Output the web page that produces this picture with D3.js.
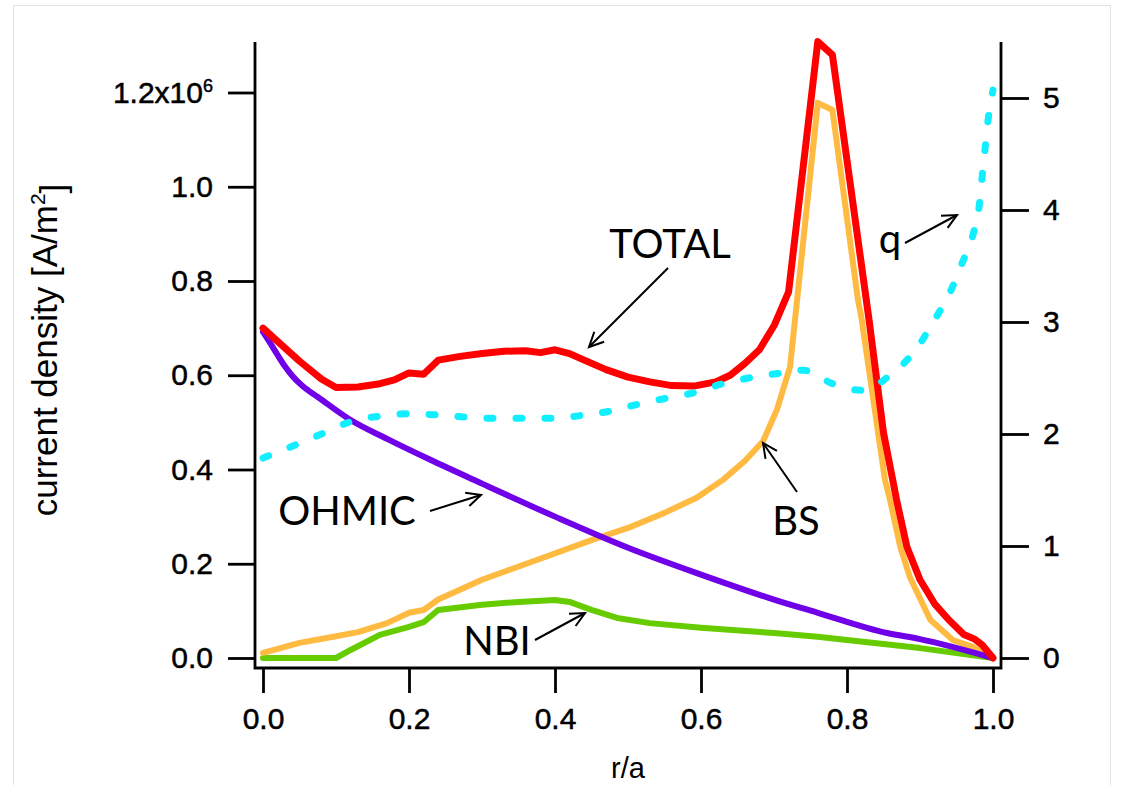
<!DOCTYPE html>
<html><head><meta charset="utf-8">
<script src="https://cdn.jsdelivr.net/npm/d3@7"></script>
<style>body{margin:0;background:#fff;}</style>
</head><body>
<svg id="c" width="1122" height="785"></svg>
<script>
// current density values in units of 1e6 A/m^2, q dimensionless
const rTotal = [0.00,0.02,0.05,0.08,0.10,0.13,0.16,0.18,0.20,0.22,0.24,0.27,0.30,0.33,0.36,0.38,0.40,0.42,0.44,0.47,0.50,0.53,0.56,0.59,0.62,0.64,0.66,0.68,0.70,0.72,0.76,0.78,0.83,0.85,0.868,0.882,0.90,0.92,0.94,0.96,0.975,0.985,1.00];
const jTotal = [0.700,0.672,0.630,0.592,0.574,0.575,0.582,0.590,0.605,0.602,0.632,0.640,0.646,0.651,0.652,0.648,0.654,0.646,0.632,0.612,0.596,0.586,0.578,0.577,0.586,0.600,0.625,0.654,0.705,0.777,1.308,1.280,0.720,0.478,0.335,0.236,0.166,0.115,0.080,0.050,0.040,0.028,0.000];

const rBS = [0.00,0.05,0.10,0.13,0.17,0.20,0.22,0.24,0.30,0.375,0.45,0.50,0.55,0.594,0.63,0.66,0.685,0.704,0.722,0.76,0.78,0.815,0.82,0.852,0.859,0.873,0.886,0.914,0.945,0.973,1.00];
const jBS = [0.011,0.032,0.046,0.055,0.074,0.096,0.102,0.124,0.166,0.208,0.250,0.276,0.308,0.340,0.378,0.418,0.460,0.527,0.618,1.178,1.163,0.760,0.720,0.378,0.335,0.236,0.172,0.081,0.038,0.023,0.000];

const rOhm = [0.00,0.01,0.02,0.03,0.04,0.055,0.075,0.12,0.17,0.23,0.30,0.40,0.50,0.60,0.70,0.76,0.855,0.90,1.00];
const jOhm = [0.692,0.668,0.643,0.619,0.599,0.576,0.554,0.505,0.465,0.420,0.370,0.300,0.234,0.177,0.124,0.096,0.053,0.040,0.000];

const rNBI = [0.00,0.10,0.12,0.16,0.20,0.22,0.24,0.30,0.35,0.40,0.42,0.45,0.485,0.53,0.60,0.70,0.76,0.80,0.90,1.00];
const jNBI = [0.000,0.000,0.017,0.049,0.066,0.076,0.102,0.113,0.119,0.123,0.119,0.102,0.085,0.074,0.064,0.053,0.045,0.038,0.021,0.000];

const rQ = [0.00,0.04,0.08,0.12,0.16,0.20,0.24,0.28,0.32,0.36,0.40,0.44,0.48,0.51,0.545,0.585,0.625,0.665,0.705,0.74,0.78,0.82,0.86,0.895,0.92,0.94,0.958,0.973,0.981,0.985,0.989,0.993,1.00];
const qVals = [1.785,1.89,2.00,2.11,2.16,2.18,2.17,2.15,2.14,2.14,2.14,2.17,2.21,2.26,2.31,2.36,2.44,2.50,2.54,2.57,2.45,2.39,2.53,2.76,3.02,3.25,3.53,3.79,4.03,4.29,4.54,4.79,5.07];

const xTicks = [0,0.2,0.4,0.6,0.8,1.0];
const leftTicks = [0,0.2,0.4,0.6,0.8,1.0,1.2];
const rightTicks = [0,1,2,3,4,5];

const svg = d3.select("#c");
svg.append("rect").attr("x",13.5).attr("y",5.5).attr("width",1097).attr("height",800)
  .attr("fill","none").attr("stroke","#e2e2e2").attr("stroke-width",1);

const x = d3.scaleLinear().domain([0,1]).range([263,993]);
const yL = d3.scaleLinear().domain([0,1.2]).range([658,92.5]);
const yR = d3.scaleLinear().domain([0,5]).range([658,98]);

const tickFont = "'Liberation Sans', Arial, sans-serif";
const annFont = "Lato, 'Open Sans', sans-serif";

function styleAxis(g){
  g.select(".domain").remove();
  g.selectAll(".tick line").attr("stroke","#000").attr("stroke-width",2.8);
  g.selectAll(".tick text").attr("fill","#000").attr("stroke","#000").attr("stroke-width",0.5)
    .style("font-family",tickFont).style("font-size","30px");
}

// axis lines
const frame = svg.append("g").attr("stroke","#000").attr("stroke-width",2.8).attr("fill","none");
frame.append("path").attr("d","M255,42V668H1001V42");

const gx = svg.append("g").attr("transform","translate(0,668)")
  .call(d3.axisBottom(x).tickValues(xTicks).tickFormat(d3.format(".1f")).tickSize(25).tickPadding(15));
styleAxis(gx);

const gl = svg.append("g").attr("transform","translate(255,0)")
  .call(d3.axisLeft(yL).tickValues(leftTicks).tickFormat(d3.format(".1f")).tickSize(27).tickPadding(15));
styleAxis(gl);
gl.selectAll(".tick text").filter(d => d === 1.2).each(function(){
  const t = d3.select(this); t.text("");
  t.append("tspan").text("1.2x10");
  t.append("tspan").attr("dy","-0.6em").style("font-size","18px").text("6");
});

const gr = svg.append("g").attr("transform","translate(1001,0)")
  .call(d3.axisRight(yR).tickValues(rightTicks).tickFormat(d3.format("d")).tickSize(28).tickPadding(14));
styleAxis(gr);

// axis titles
const yt = svg.append("text").attr("transform","translate(57,350) rotate(-90)")
  .attr("text-anchor","middle").style("font-family",tickFont).style("font-size","35px").attr("fill","#000");
yt.append("tspan").text("current density [A/m");
yt.append("tspan").attr("dy","-0.55em").style("font-size","21px").text("2");
yt.append("tspan").attr("dy","0.55em").text("]");

svg.append("text").attr("x",628).attr("y",778).attr("text-anchor","middle")
  .style("font-family",tickFont).style("font-size","29px").attr("fill","#000").text("r/a");

// series
const zipL = (rs, vs) => rs.map((r,i)=>[r,vs[i]]);
const lineL = d3.line().x(d=>x(d[0])).y(d=>yL(d[1]));
const lineLs = d3.line().x(d=>x(d[0])).y(d=>yL(d[1])).curve(d3.curveMonotoneX);
const lineR = d3.line().x(d=>x(d[0])).y(d=>yR(d[1])).curve(d3.curveMonotoneX);

const series = [
  {d: zipL(rNBI,jNBI), c:"#66cc00", w:6, gen: lineL},
  {d: zipL(rBS,jBS), c:"#ffba42", w:6, gen: lineL},
  {d: zipL(rOhm,jOhm), c:"#7000e8", w:6, gen: lineLs},
  {d: zipL(rTotal,jTotal), c:"#ff0000", w:7, gen: lineL},
];
series.forEach(s => {
  svg.append("path").attr("d", s.gen(s.d)).attr("fill","none").attr("stroke",s.c)
    .attr("stroke-width",s.w).attr("stroke-linejoin","round").attr("stroke-linecap","round");
});
svg.append("path").attr("d", lineR(zipL(rQ,qVals))).attr("fill","none").attr("stroke","#11eeff")
  .attr("stroke-width",7).attr("stroke-linecap","round").attr("stroke-dasharray","6 23");

// annotations
function arrow(x1,y1,x2,y2){
  const g = svg.append("g").attr("stroke","#000").attr("stroke-width",2).attr("fill","none");
  g.append("line").attr("x1",x1).attr("y1",y1).attr("x2",x2).attr("y2",y2);
  const a = Math.atan2(y1-y2, x1-x2), L = 16, s = 0.45;
  g.append("path").attr("d",`M${x2+L*Math.cos(a+s)},${y2+L*Math.sin(a+s)}L${x2},${y2}L${x2+L*Math.cos(a-s)},${y2+L*Math.sin(a-s)}`);
}
const labels = [
  {t:"TOTAL", x:670, y:258},
  {t:"q", x:890, y:253},
  {t:"OHMIC", x:347, y:525},
  {t:"BS", x:796, y:535},
  {t:"NBI", x:497, y:655},
];
labels.forEach(l => svg.append("text").attr("x",l.x).attr("y",l.y).attr("text-anchor","middle")
  .style("font-family",annFont).style("font-size","40px").attr("fill","#000").text(l.t));
arrow(668,268,589,347);
arrow(905,243,957,215);
arrow(430,511,481,495);
arrow(797,492,763,443);
arrow(535,640,585,613);
</script>
</body></html>
